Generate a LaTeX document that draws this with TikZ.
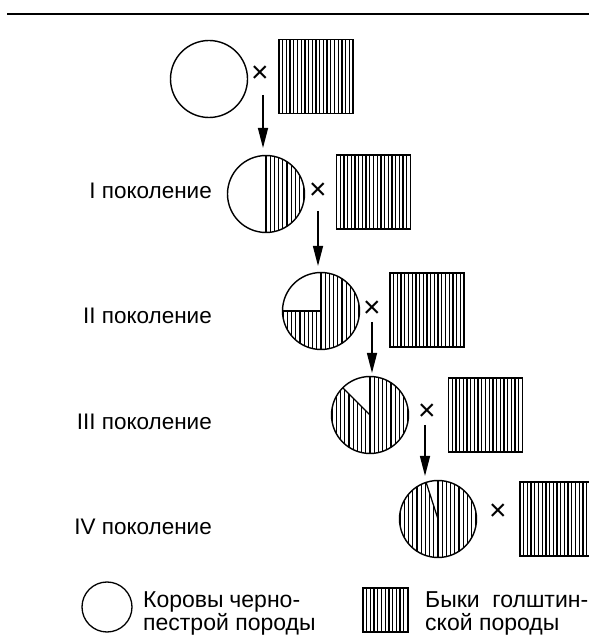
\documentclass[tikz,border=0pt]{standalone}
\usepackage{fontspec}
\setmainfont{Liberation Sans}
\usetikzlibrary{arrows.meta}
\begin{document}
\begin{tikzpicture}[x=1pt,y=1pt,
  circ/.style={circle,draw,line width=1.4pt,minimum size=77pt,inner sep=0pt},
  hcirc/.style={circ,path picture={
      \begin{scope}
        \clip (path picture bounding box.center) -- ++(#1:50) arc[start angle=#1,end angle=450,radius=50] -- cycle;
        \foreach \k in {-10,...,10}
          \draw[line width=1.25pt] ([xshift=\k*4.2pt]path picture bounding box.north) -- ([xshift=\k*4.2pt]path picture bounding box.south);
      \end{scope}
      \draw[line width=1.25pt] (path picture bounding box.center) -- (path picture bounding box.north);
      \draw[line width=1.25pt] (path picture bounding box.center) -- ++(#1:40);
    }},
  sq/.style={draw,line width=1.5pt,inner sep=0pt,minimum width=74pt,minimum height=74pt,
    path picture={
      \foreach \k in {1,...,25}
        \draw[line width=1.3pt] ([xshift=\k*3.7pt]path picture bounding box.north west) -- ([xshift=\k*3.7pt]path picture bounding box.south west);
    }},
  cross/.style={font=\fontsize{30}{30}\selectfont,inner sep=0pt},
  gen/.style={font=\fontsize{22.5}{24}\selectfont,anchor=base east,inner sep=0pt},
  leg/.style={font=\fontsize{23}{23}\selectfont,anchor=base west,align=left,inner sep=0pt},
  arr/.style={line width=1.4pt,-{Triangle[length=20pt,width=10pt]}}
]
\useasboundingbox (0,0) rectangle (589,635);
\clip (0,0) rectangle (589,635);

% top rule
\coordinate (r1) at (7,621);
\coordinate (r2) at (589,621);
\draw[line width=2pt] (r1) -- (r2);

% parents
\node[circ] (c0) at (209,556) {};
\node[cross] (x0) at (260,561) {×};
\node[sq] (s0) at (316,558.5) {};
\coordinate (a0) at (263,540);
\coordinate (b0) at (263,487);
\draw[arr] (a0) -- (b0);

% generation I
\node[gen] (l1) at (212,436) {I поколение};
\node[hcirc=270] (c1) at (266,441) {};
\node[cross] (x1) at (318,444) {×};
\node[sq] (s1) at (373.5,443) {};
\coordinate (a1) at (318,424);
\coordinate (b1) at (318,369);
\draw[arr] (a1) -- (b1);

% generation II
\node[gen] (l2) at (212,311) {II поколение};
\node[hcirc=180] (c2) at (321,324) {};
\node[cross] (x2) at (372,326) {×};
\node[sq] (s2) at (427,325) {};
\coordinate (a2) at (372,313);
\coordinate (b2) at (372,262);
\draw[arr] (a2) -- (b2);

% generation III
\node[gen] (l3) at (212,205) {III поколение};
\node[hcirc=135] (c3) at (370,220) {};
\node[cross] (x3) at (427,223) {×};
\node[sq] (s3) at (485.5,220) {};
\coordinate (a3) at (425,210);
\coordinate (b3) at (425,159);
\draw[arr] (a3) -- (b3);

% generation IV
\node[gen] (l4) at (212,100) {IV поколение};
\node[hcirc=108] (c4) at (438,116) {};
\node[cross] (x4) at (498,123) {×};
\node[sq] (s4) at (557,116) {};

% legend
\node[circle,draw,line width=1.3pt,minimum size=50pt,inner sep=0pt] (lc) at (107,28) {};
\node[leg] (lt1) at (143,5) {\hbox to 157pt{Коровы\hfil черно-}\\пестрой породы};
\node[sq,minimum width=45pt,minimum height=44pt] (ls) at (385.5,25) {};
\node[leg] (lt2) at (425,5) {\hbox to 163pt{Быки\hfil голштин-}\\ской породы};
\end{tikzpicture}
\end{document}
